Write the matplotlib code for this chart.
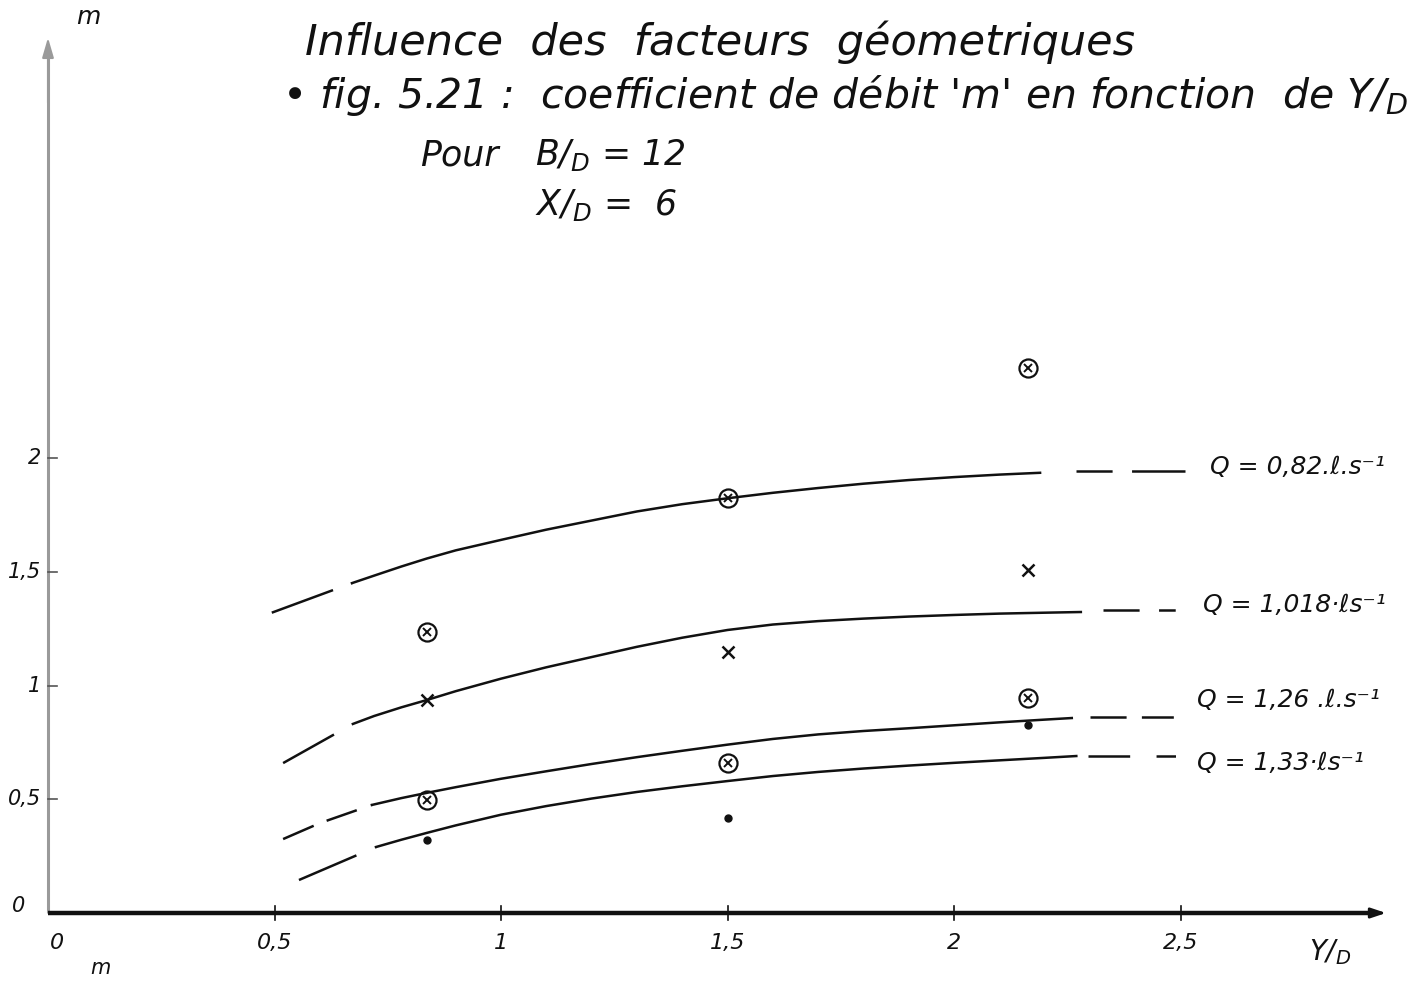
# Coefficient de débit m en fonction de Y/D (fig. 5.21), redrawn from the hand-drawn sheet
import matplotlib
matplotlib.use("Agg")
import matplotlib.pyplot as plt

plt.rcParams["lines.scale_dashes"] = False

# measured points (Y/D, m)
circ_x = [0.836, 1.50, 2.163, 0.836, 1.50, 2.163]
circ_m = [1.235, 1.824, 2.396, 0.497, 0.66, 0.945]
cross_x = [0.836, 1.50, 2.163]
cross_m = [0.936, 1.147, 1.508]
dot_x = [0.836, 1.50, 2.163]
dot_m = [0.32, 0.418, 0.826]

# fitted curves: left dashed part, solid part, right dashed part
q082_left_x = [0.494, 0.671]
q082_left_m = [1.32, 1.45]
q082_x = [0.671, 0.72, 0.78, 0.836, 0.9, 1.0, 1.1, 1.2, 1.3, 1.4, 1.5, 1.6, 1.7, 1.8, 1.9, 2.0, 2.1, 2.19]
q082_m = [1.45, 1.483, 1.523, 1.558, 1.594, 1.64, 1.685, 1.725, 1.765, 1.797, 1.823, 1.847, 1.868, 1.887,
          1.903, 1.916, 1.927, 1.935]
q082_right_x = [2.27, 2.51]
q082_right_m = [1.943, 1.943]

q1018_left_x = [0.519, 0.673]
q1018_left_m = [0.659, 0.831]
q1018_x = [0.673, 0.72, 0.78, 0.836, 0.9, 1.0, 1.1, 1.2, 1.3, 1.4, 1.5, 1.6, 1.7, 1.8, 1.9, 2.0, 2.1, 2.2, 2.28]
q1018_m = [0.831, 0.866, 0.904, 0.936, 0.975, 1.03, 1.08, 1.125, 1.17, 1.21, 1.244, 1.268, 1.283, 1.294,
           1.303, 1.31, 1.316, 1.32, 1.323]
q1018_right_x = [2.33, 2.49]
q1018_right_m = [1.33, 1.33]

q126_left_x = [0.519, 0.6, 0.715]
q126_left_m = [0.325, 0.395, 0.475]
q126_x = [0.715, 0.78, 0.836, 0.9, 1.0, 1.1, 1.2, 1.3, 1.4, 1.5, 1.6, 1.7, 1.8, 1.9, 2.0, 2.1, 2.2, 2.26]
q126_m = [0.475, 0.505, 0.528, 0.553, 0.59, 0.623, 0.655, 0.685, 0.713, 0.74, 0.765, 0.785, 0.8, 0.812,
          0.825, 0.838, 0.85, 0.857]
q126_right_x = [2.30, 2.49]
q126_right_m = [0.86, 0.86]

q133_left_x = [0.554, 0.724]
q133_left_m = [0.145, 0.29]
q133_x = [0.724, 0.78, 0.836, 0.9, 1.0, 1.1, 1.2, 1.3, 1.4, 1.5, 1.6, 1.7, 1.8, 1.9, 2.0, 2.1, 2.2, 2.27]
q133_m = [0.29, 0.322, 0.352, 0.385, 0.432, 0.47, 0.503, 0.532, 0.557, 0.58, 0.602, 0.62, 0.635, 0.648,
          0.66, 0.671, 0.682, 0.69]
q133_right_x = [2.296, 2.492]
q133_right_m = [0.69, 0.69]

q_labels = ["Q = 0,82.ℓ.s⁻¹", "Q = 1,018·ℓs⁻¹", "Q = 1,26 .ℓ.s⁻¹", "Q = 1,33·ℓs⁻¹"]
q_label_x = [2.565, 2.55, 2.536, 2.536]
q_label_m = [1.96, 1.354, 0.936, 0.66]

xticks = [0.5, 1.0, 1.5, 2.0, 2.5]
xtick_labels = ["0,5", "1", "1,5", "2", "2,5"]
yticks = [0.5, 1.0, 1.5, 2.0]
ytick_labels = ["0,5", "1", "1,5", "2"]

W, H = 1424, 982
fig = plt.figure(figsize=(W / 100, H / 100), dpi=100)
ax = fig.add_axes([0, 0, 1, 1])
# pixel mapping of the sheet: x=0 at px 48, 453 px per unit; m=0 at px 913, 227.5 px per unit
ax.set_xlim(-48 / 453, (W - 48) / 453)
ax.set_ylim(-(H - 913) / 227.5, 913 / 227.5)
ax.axis("off")

ink = "#111111"
hand = dict(color=ink, style="italic", family="DejaVu Sans")

# axes
ax.plot([0, 0], [0, 3.78], color="#9a9a9a", lw=2.2, solid_capstyle="butt")
ax.annotate("", xy=(0, 3.86), xytext=(0, 3.55),
            arrowprops=dict(arrowstyle="-|>,head_width=0.35,head_length=1.2", color="#9a9a9a", lw=1.5))
ax.plot([0, 2.93], [0, 0], color=ink, lw=3.2, solid_capstyle="butt")
ax.annotate("", xy=(2.96, 0), xytext=(2.86, 0),
            arrowprops=dict(arrowstyle="-|>,head_width=0.3,head_length=0.9", color=ink, lw=2))
for xt in xticks:
    ax.plot([xt, xt], [-0.03, 0.03], color=ink, lw=1.2)
for yt in yticks:
    ax.plot([0, 0.02], [yt, yt], color="#555555", lw=1.2)

for xt, lab in zip(xticks, xtick_labels):
    ax.text(xt, -0.13, lab, ha="center", va="center", fontsize=16, **hand)
ax.text(0.02, -0.13, "0", ha="center", va="center", fontsize=16, **hand)
for yt, lab in zip(yticks, ytick_labels):
    ax.text(-0.015, yt, lab, ha="right", va="center", fontsize=15, **hand)
ax.text(-0.05, 0.03, "0", ha="right", va="center", fontsize=15, **hand)
ax.text(2.83, -0.17, "Y/$_D$", ha="center", va="center", fontsize=20, **hand)
ax.text(0.09, 3.94, "m", ha="center", va="center", fontsize=18, **hand)
fig.text(100 / W, 1 - 968 / H, "m", ha="center", va="center", fontsize=15, **hand)

# curves
curves = [
    (q082_left_x, q082_left_m, q082_x, q082_m, q082_right_x, q082_right_m, (47, 14), (26, 14, 39, 100)),
    (q1018_left_x, q1018_left_m, q1018_x, q1018_m, q1018_right_x, q1018_right_m, (42, 16), (26, 14, 12, 100)),
    (q126_left_x, q126_left_m, q126_x, q126_m, q126_right_x, q126_right_m, (24, 10, 23, 11), (26, 11, 23, 100)),
    (q133_left_x, q133_left_m, q133_x, q133_m, q133_right_x, q133_right_m, (45, 15), (30, 19, 14, 100)),
]
for lx, lm, sx, sm, rx, rm, ldash, rdash in curves:
    ax.plot(lx, lm, color=ink, lw=1.8, linestyle=(0, ldash), dash_capstyle="butt")
    ax.plot(sx, sm, color=ink, lw=1.8, solid_joinstyle="round")
    ax.plot(rx, rm, color=ink, lw=1.8, linestyle=(0, rdash), dash_capstyle="butt")

for lab, lx, lm in zip(q_labels, q_label_x, q_label_m):
    ax.text(lx, lm, lab, ha="left", va="center", fontsize=18, **hand)

# markers
ax.plot(circ_x, circ_m, linestyle="none", marker="o", ms=13, mfc="none", mec=ink, mew=1.6)
ax.plot(circ_x, circ_m, linestyle="none", marker="x", ms=6, mec=ink, mew=1.4)
ax.plot(cross_x, cross_m, linestyle="none", marker="x", ms=8, mec=ink, mew=1.8)
ax.plot(dot_x, dot_m, linestyle="none", marker="o", ms=5, color=ink)

# header
fig.text(305 / W, 1 - 42 / H, "Influence  des  facteurs  géometriques", fontsize=31, ha="left", va="center", **hand)
fig.text(282 / W, 1 - 95 / H, "• fig. 5.21 :  coefficient de débit 'm' en fonction  de Y/$_D$",
         fontsize=29.5, ha="left", va="center", **hand)
fig.text(420 / W, 1 - 155 / H, "Pour", fontsize=25, ha="left", va="center", **hand)
fig.text(535 / W, 1 - 155 / H, "B/$_D$ = 12", fontsize=25, ha="left", va="center", **hand)
fig.text(535 / W, 1 - 205 / H, "X/$_D$ =  6", fontsize=25, ha="left", va="center", **hand)

fig.savefig("out.png", dpi=100, facecolor="white")
